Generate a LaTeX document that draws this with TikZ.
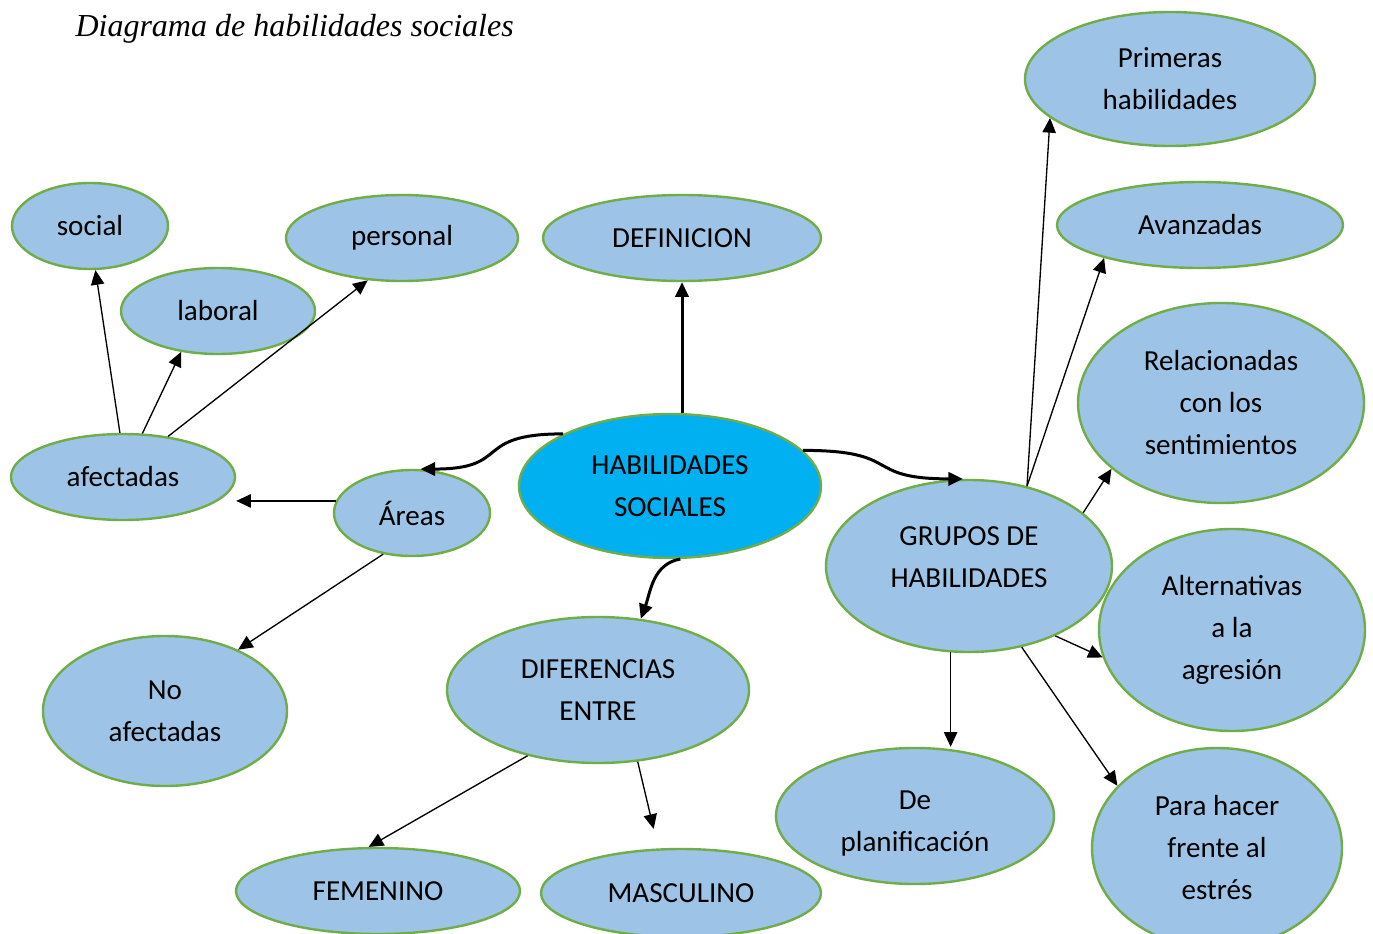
\documentclass[tikz,border=0pt]{standalone}
\usepackage{fontspec}
\setmainfont{Carlito}
\newfontfamily\titlefont{Liberation Serif}
\usetikzlibrary{shapes.geometric,arrows.meta}

\definecolor{ovfill}{HTML}{9DC3E6}
\definecolor{ovline}{HTML}{70AD47}
\definecolor{hubfill}{HTML}{00B0F0}

\tikzset{every picture/.style={line width=0.75pt}}
\tikzset{
  ov/.style 2 args={ellipse,draw=ovline,fill=ovfill,line width=1.8pt,inner sep=0pt,
    minimum width=#1*1.5pt,minimum height=#2*1.5pt,align=center,
    font=\fontsize{21.8}{31.5}\selectfont},
  arr/.style={-{Triangle[length=11pt,width=10pt]},line width=1pt},
  hubarr/.style={-{Triangle[length=11pt,width=10pt]},line width=2.25pt},
}

\begin{document}
\begin{tikzpicture}[x=0.75pt,y=0.75pt,yscale=-1,xscale=1]
	%set diagram to 1373 x 934
	\path[use as bounding box,fill=white] (0,0) rectangle (1373,934);

	% Title
	\node[anchor=base west,inner sep=0pt,font=\titlefont\itshape\fontsize{24}{28}\selectfont] (title) at (75,37) {Diagrama de habilidades sociales};

	% Ellipses
	\node[ov={151}{72},fill=hubfill] (hab) at (670,486) {HABILIDADES\\SOCIALES};
	\node[ov={139}{43}] (def) at (682,238) {DEFINICION};
	\node[ov={78}{43}] (areas) at (412,513) {Áreas};
	\node[ov={112}{43}] (afect) at (123,477) {afectadas};
	\node[ov={122}{75}] (noafect) at (165,711) {No\\afectadas};
	\node[ov={78}{43}] (social) at (90,226) {social};
	\node[ov={97}{43}] (laboral) at (218,311) {laboral};
	\node[ov={116}{43}] (personal) at (402,238) {personal};
	\node[ov={151}{73}] (dif) at (598,690) {DIFERENCIAS\\ENTRE};
	\node[ov={142}{43}] (fem) at (378,891) {FEMENINO};
	\node[ov={140}{44}] (masc) at (681,893) {MASCULINO};
	\node[ov={143}{86}] (grupos) at (969,566) {GRUPOS DE\\HABILIDADES\\[-18pt]\mbox{}};
	\node[ov={145}{67}] (primeras) at (1170,79) {Primeras\\habilidades};
	\node[ov={143}{43}] (avanz) at (1200,225) {Avanzadas};
	\node[ov={143}{100}] (relac) at (1221,403) {Relacionadas\\con los\\sentimientos};
	\node[ov={133}{101}] (altern) at (1232,630) {Alternativas\\a la\\agresión};
	\node[ov={125}{100}] (estres) at (1217,848) {Para hacer\\frente al\\estrés};
	\node[ov={139}{68}] (plan) at (915,816) {\mbox{}\\[-7pt]De\\planificación};

	% Arrows from the centre
	\draw[hubarr] (def.south |- hab.north) -- (def.south);
	\draw[hubarr] (hab.154) to[out=180,in=0,looseness=1.6] (areas.79);
	\draw[hubarr] (hab.15) to[out=0,in=180,looseness=1.6] (grupos.94);
	\draw[hubarr] (hab.-82) to[out=170,in=290] (dif.59);

	% Areas
	\draw[arr] (areas.171) -- (areas.171 -| afect.east);
	\draw[arr] (areas.235) -- (noafect.40);
	\draw[arr] (afect.94) -- (social.-83);
	\draw[arr] (afect.66) -- (laboral.228);
	\draw[arr] (afect.42) -- (personal.231);

	% Diferencias
	\draw[arr] (dif.223) -- (fem.102);
	\draw[arr,shorten >=15pt] (dif.-61) -- (masc.117);

	% Grupos
	\draw[arr] (grupos.54) -- (primeras.198);
	\draw[arr] (grupos.54) -- (avanz.199);
	\draw[arr] (grupos.25) -- (relac.211);
	\draw[arr] (grupos.-39) -- (altern.192);
	\draw[arr] (grupos.-57) -- (estres.148);
	\draw[arr] (grupos.258) -- (grupos.258 |- plan.north);

\end{tikzpicture}
\end{document}
